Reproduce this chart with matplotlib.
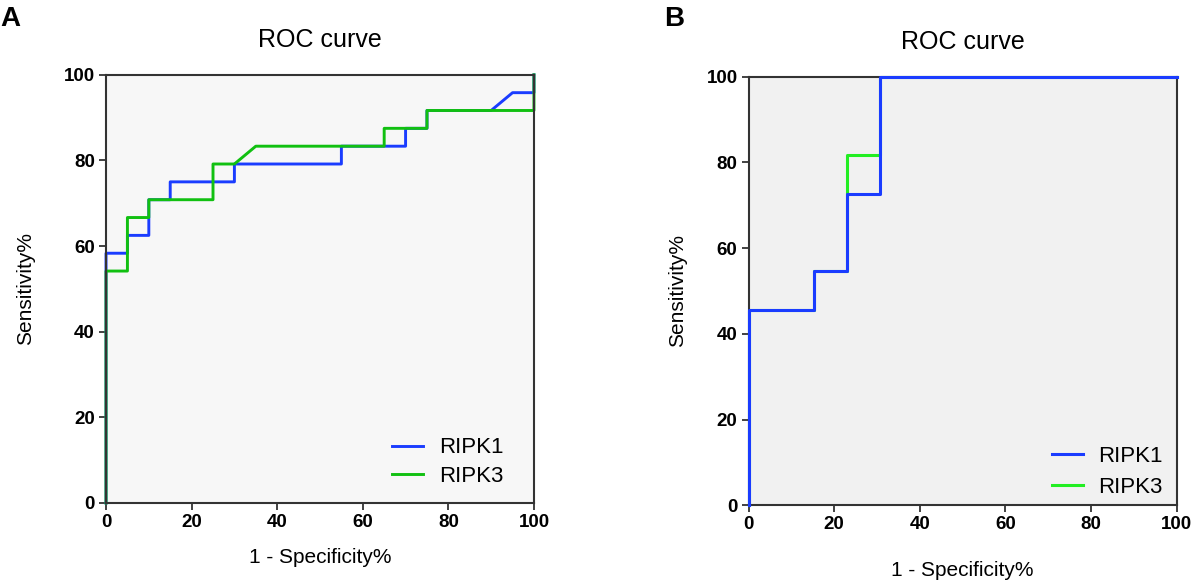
import matplotlib
matplotlib.use("Agg")
import matplotlib.pyplot as plt

plt.rcParams['font.family'] = ['Liberation Sans', 'DejaVu Sans']

# Panel A: ROC points (1 - specificity %, sensitivity %)
a_ripk1_fpr = [0, 0, 5, 5, 10, 10, 15, 15, 30, 30, 55, 55, 70, 70, 75, 75, 90, 95, 100, 100]
a_ripk1_tpr = [0, 58.33, 58.33, 62.5, 62.5, 70.83, 70.83, 75, 75, 79.17, 79.17, 83.33,
               83.33, 87.5, 87.5, 91.67, 91.67, 95.83, 95.83, 100]
a_ripk3_fpr = [0, 0, 5, 5, 10, 10, 25, 25, 30, 35, 65, 65, 75, 75, 100, 100]
a_ripk3_tpr = [0, 54.17, 54.17, 66.67, 66.67, 70.83, 70.83, 79.17, 79.17, 83.33, 83.33,
               87.5, 87.5, 91.67, 91.67, 100]

# Panel B
b_ripk1_fpr = [0, 0, 15.38, 15.38, 23.08, 23.08, 30.77, 30.77, 100]
b_ripk1_tpr = [0, 45.45, 45.45, 54.55, 54.55, 72.73, 72.73, 100, 100]
b_ripk3_fpr = [0, 0, 15.38, 15.38, 23.08, 23.08, 30.77, 30.77, 100]
b_ripk3_tpr = [0, 45.45, 45.45, 54.55, 54.55, 81.82, 81.82, 100, 100]

ticks = [0, 20, 40, 60, 80, 100]

fig = plt.figure(figsize=(11.94, 5.8), dpi=100)
ax_a = fig.add_axes([0.0888, 0.1328, 0.3584, 0.7382])
ax_b = fig.add_axes([0.627, 0.1288, 0.3585, 0.739])


def style(ax, bg, xpad, ypad):
    ax.set_facecolor(bg)
    ax.set_xlim(0, 100)
    ax.set_ylim(0, 100)
    ax.set_xticks(ticks)
    ax.set_yticks(ticks)
    for lab in ax.get_xticklabels() + ax.get_yticklabels():
        lab.set_fontweight('bold')
    ax.tick_params(direction='out', length=5, width=1.3, labelsize=13.5, color='#333333', pad=3)
    for sp in ax.spines.values():
        sp.set_linewidth(1.5)
        sp.set_color('#333333')
    ax.set_title('ROC curve', fontsize=18, pad=20)
    ax.set_xlabel('1 - Specificity%', fontsize=15, labelpad=xpad)
    ax.set_ylabel('Sensitivity%', fontsize=15, labelpad=ypad)


def add_legend(ax, handles, labels, anchor, spacing):
    ax.legend(handles, labels, loc='lower right', frameon=False, fontsize=16,
              handlelength=1.4, handletextpad=0.7, labelspacing=spacing,
              bbox_to_anchor=anchor)


ax_a.plot(a_ripk1_fpr, a_ripk1_tpr, color='#1a3cff', lw=2.1, label='RIPK1', clip_on=False)
ax_a.plot(a_ripk3_fpr, a_ripk3_tpr, color='#11c011', lw=2.1, label='RIPK3', clip_on=False)
style(ax_a, '#f7f7f7', 12, 21)
h, l = ax_a.get_legend_handles_labels()
add_legend(ax_a, h, l, (0.975, -0.01), 0.35)

ax_b.plot(b_ripk3_fpr, b_ripk3_tpr, color='#22ee22', lw=2.2, label='RIPK3', clip_on=False, zorder=2)
ax_b.plot(b_ripk1_fpr, b_ripk1_tpr, color='#1a3cff', lw=2.2, label='RIPK1', clip_on=False, zorder=3)
style(ax_b, '#f1f1f1', 20, 14)
h, l = ax_b.get_legend_handles_labels()
add_legend(ax_b, h[::-1], l[::-1], (1.015, -0.03), 0.45)

fig.text(0.0, 0.968, 'A', fontsize=20, fontweight='bold', va='center')
fig.text(0.556, 0.968, 'B', fontsize=20, fontweight='bold', va='center')

fig.savefig('out.png', dpi=100)
